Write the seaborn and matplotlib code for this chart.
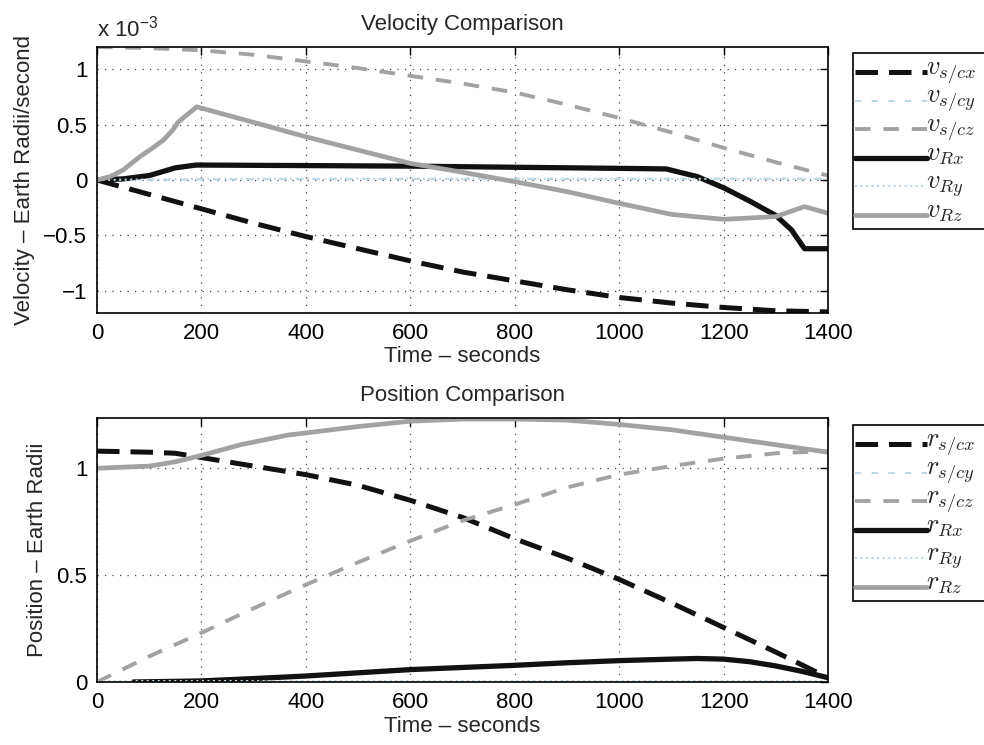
import matplotlib
matplotlib.use("Agg")
import matplotlib.pyplot as plt
import seaborn as sns
from matplotlib.offsetbox import TextArea
from matplotlib.transforms import Bbox

sns.set_style("white")
plt.rcParams["font.family"] = ["Liberation Sans", "DejaVu Sans"]
plt.rcParams["mathtext.fontset"] = "cm"
plt.rcParams["mathtext.rm"] = "Liberation Sans"

# ---------------- velocity data (units of 1e-3 Earth radii / s) ----------------
t_v_scx = [0, 100, 200, 300, 400, 500, 600, 700, 800, 900, 1000, 1100, 1200, 1300, 1400]
v_scx = [0, -0.13, -0.26, -0.39, -0.51, -0.62, -0.73, -0.83, -0.91, -0.99, -1.06, -1.11, -1.15, -1.18, -1.19]

t_v_scy = [0, 200, 400, 600, 800, 1000, 1200, 1400]
v_scy = [0.0, 0.005, 0.008, 0.01, 0.01, 0.01, 0.012, 0.012]

t_v_scz = [0, 100, 200, 300, 400, 500, 600, 700, 800, 900, 1000, 1100, 1200, 1300, 1400]
v_scz = [1.2, 1.19, 1.17, 1.13, 1.07, 1.01, 0.94, 0.87, 0.79, 0.68, 0.56, 0.43, 0.29, 0.16, 0.04]

t_v_Rx = [0, 50, 100, 150, 190, 400, 600, 800, 1000, 1090, 1150, 1200, 1250, 1300, 1330, 1355, 1400]
v_Rx = [0, 0.01, 0.04, 0.11, 0.135, 0.13, 0.125, 0.115, 0.105, 0.10, 0.03, -0.07, -0.19, -0.32, -0.45, -0.62, -0.62]

t_v_Ry = [0, 200, 400, 600, 800, 1000, 1200, 1400]
v_Ry = [0.0, 0.01, 0.012, 0.012, 0.01, 0.012, 0.01, 0.01]

t_v_Rz = [0, 25, 50, 82, 107, 127, 145, 155, 165, 191, 300, 400, 500, 600, 700, 800,
          900, 1000, 1100, 1200, 1300, 1355, 1400]
v_Rz = [0, 0.03, 0.09, 0.21, 0.29, 0.36, 0.45, 0.52, 0.56, 0.66, 0.52, 0.39, 0.27, 0.15,
        0.07, -0.015, -0.105, -0.21, -0.31, -0.355, -0.33, -0.24, -0.30]

# ---------------- position data (Earth radii) ----------------
t_r_scx = [0, 100, 150, 200, 250, 300, 400, 500, 600, 700, 800, 900, 1000, 1100, 1200, 1300, 1350, 1400]
r_scx = [1.08, 1.075, 1.07, 1.05, 1.03, 1.01, 0.97, 0.92, 0.85, 0.77, 0.67, 0.58, 0.48, 0.37,
         0.255, 0.14, 0.08, 0.02]

t_r_scy = [0, 200, 400, 600, 800, 1000, 1200, 1400]
r_scy = [0.002, 0.002, 0.002, 0.002, 0.002, 0.002, 0.002, 0.002]

t_r_scz = [0, 100, 200, 300, 400, 500, 600, 700, 800, 900, 1000, 1100, 1200, 1300, 1400]
r_scz = [0, 0.12, 0.23, 0.345, 0.455, 0.56, 0.66, 0.755, 0.83, 0.91, 0.97, 1.01, 1.045, 1.07, 1.08]

t_r_Rx = [70, 200, 300, 400, 500, 600, 700, 800, 900, 1000, 1100, 1150, 1200, 1250, 1300, 1350, 1400]
r_Rx = [0, 0.005, 0.016, 0.028, 0.043, 0.058, 0.068, 0.078, 0.09, 0.10, 0.107, 0.11, 0.107,
        0.095, 0.075, 0.05, 0.02]

t_r_Ry = [0, 200, 400, 600, 800, 1000, 1200, 1400]
r_Ry = [0.004, 0.004, 0.004, 0.004, 0.004, 0.004, 0.004, 0.004]

t_r_Rz = [0, 100, 150, 200, 275, 365, 400, 500, 600, 700, 800, 900, 1000, 1100, 1200, 1300, 1400]
r_Rz = [1.0, 1.01, 1.03, 1.06, 1.11, 1.155, 1.165, 1.195, 1.22, 1.23, 1.23, 1.225, 1.205,
        1.18, 1.145, 1.11, 1.075]

x_ticks = [0, 200, 400, 600, 800, 1000, 1200, 1400]
v_ticks = [-1, -0.5, 0, 0.5, 1]
r_ticks = [0, 0.5, 1]

BLACK = "#111111"
GRAY = "#a2a2a2"
PALE = "#bcd6e3"

styles = [
    dict(color=BLACK, lw=3.6, ls=(0, (4.5, 2.2))),
    dict(color=PALE, lw=1.5, ls=(0, (3, 5))),
    dict(color=GRAY, lw=2.8, ls=(0, (4.0, 3.3))),
    dict(color=BLACK, lw=3.8, ls="-"),
    dict(color=PALE, lw=1.5, ls=":"),
    dict(color=GRAY, lw=3.4, ls="-"),
]

FS = 16
LEG_FS = 19

fig = plt.figure(figsize=(9.84, 7.45), dpi=100)
W, H = 984.0, 745.0
ax1 = fig.add_axes([97 / W, 1 - 313 / H, (828 - 97) / W, (313 - 47) / H])
ax2 = fig.add_axes([97 / W, 1 - 682 / H, (828 - 97) / W, (682 - 418) / H])


def draw(ax, series, labels):
    for (tt, yy), lab, st in zip(series, labels, styles):
        sns.lineplot(x=tt, y=yy, ax=ax, color=st["color"], linewidth=st["lw"],
                     linestyle=st["ls"], label=lab, legend=False, sort=False,
                     estimator=None, dash_capstyle="butt")


def style_axes(ax, yticks, ylim, title, ylabel):
    ax.set_xlim(0, 1400)
    ax.set_ylim(*ylim)
    ax.set_xticks(x_ticks)
    ax.set_yticks(yticks)
    ax.set_yticklabels([f"{v:g}".replace("-", "\u2212") for v in yticks])
    ax.tick_params(direction="in", length=6, width=1, top=True, right=True,
                   labelsize=FS, pad=7, colors="black")
    ax.grid(True, color="#444444", linestyle=(0, (1, 5)), linewidth=0.9)
    for s in ax.spines.values():
        s.set_visible(True)
        s.set_color("black")
        s.set_linewidth(1.2)
    ax.set_title(title, fontsize=FS, pad=12)
    ax.set_xlabel("Time \u2013 seconds", fontsize=FS, labelpad=2)
    ax.set_ylabel(ylabel, fontsize=FS, labelpad=6)


v_series = [(t_v_scx, v_scx), (t_v_scy, v_scy), (t_v_scz, v_scz),
            (t_v_Rx, v_Rx), (t_v_Ry, v_Ry), (t_v_Rz, v_Rz)]
v_labels = [r"$v_{s/cx}$", r"$v_{s/cy}$", r"$v_{s/cz}$", r"$v_{Rx}$", r"$v_{Ry}$", r"$v_{Rz}$"]
r_series = [(t_r_scx, r_scx), (t_r_scy, r_scy), (t_r_scz, r_scz),
            (t_r_Rx, r_Rx), (t_r_Ry, r_Ry), (t_r_Rz, r_Rz)]
r_labels = [r"$r_{s/cx}$", r"$r_{s/cy}$", r"$r_{s/cz}$", r"$r_{Rx}$", r"$r_{Ry}$", r"$r_{Rz}$"]

draw(ax1, v_series, v_labels)
draw(ax2, r_series, r_labels)

style_axes(ax1, v_ticks, (-1.2, 1.2), "Velocity Comparison", "Velocity \u2013 Earth Radii/second")
style_axes(ax2, r_ticks, (0, 1.235), "Position Comparison", "Position \u2013 Earth Radii")

# exponent marker for the velocity axis
fig.text(97 / W, 1 - 37 / H, r"x 10$^{-3}$", fontsize=FS, ha="left", va="baseline",
         math_fontfamily="custom")

# legend rows: fixed pitch, label baseline sitting just under the key line
ROW_H, ROW_D, RAISE = 28.5, 2.5, 7.2
EXTRA_W = 20.0


def even_rows(leg):
    for ta in leg.findobj(lambda a: isinstance(a, TextArea)):
        if ta._text not in leg.texts:
            continue

        def fixed_bbox(renderer, _orig=ta.get_bbox, _ta=ta):
            bb = _orig(renderer)
            _ta._baseline_transform.clear().translate(0, RAISE)
            return Bbox.from_bounds(bb.x0, -ROW_D, bb.width, ROW_H)

        ta.get_bbox = fixed_bbox


def widen_frame(leg):
    frame = leg.get_frame()

    def wider(*args, _orig=frame.set_bounds):
        l, b, w, h = args[0] if len(args) == 1 else args
        _orig(l, b, w + EXTRA_W, h)

    frame.set_bounds = wider


for ax, top in ((ax1, 53), (ax2, 425)):
    h, l = ax.get_legend_handles_labels()
    leg = fig.legend(h, l, loc="upper left", bbox_to_anchor=(853 / W, 1 - top / H),
                     bbox_transform=fig.transFigure, fontsize=LEG_FS, handlelength=2.73,
                     handletextpad=-0.04, labelspacing=0.0, borderpad=0.09,
                     borderaxespad=0, fancybox=False, framealpha=1, edgecolor="black")
    leg.get_frame().set_linewidth(1.2)
    even_rows(leg)
    widen_frame(leg)

fig.savefig("out.png", dpi=100)
